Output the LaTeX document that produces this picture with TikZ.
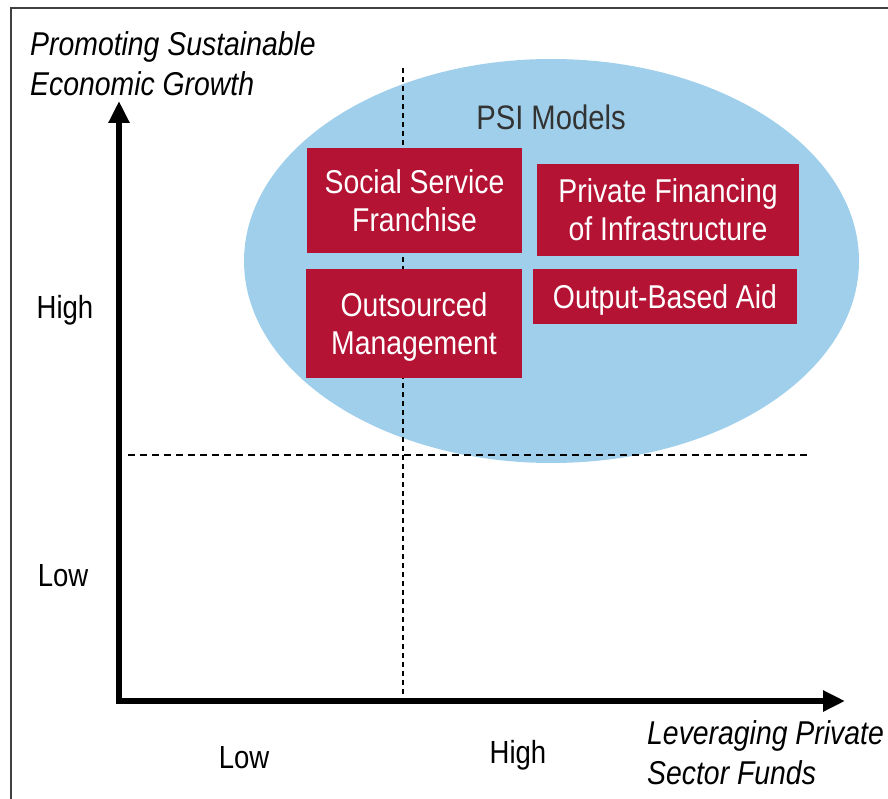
\documentclass[tikz,border=0pt]{standalone}
\usepackage{fontspec}
\setmainfont[FakeStretch=0.86]{Liberation Sans}
\usetikzlibrary{arrows.meta,shapes.geometric}
\definecolor{ellblue}{HTML}{A0CFEB}
\definecolor{boxred}{HTML}{B41333}
\definecolor{txtgray}{HTML}{333333}
\tikzset{
  modelbox/.style={fill=boxred, text=white, align=center, inner sep=0pt, text depth=0pt,
    font=\fontsize{33}{38}\selectfont},
  axislbl/.style={font=\fontsize{33}{40}\selectfont\itshape, align=left, inner sep=0pt, anchor=north west},
  ticklbl/.style={font=\fontsize{32}{36}\selectfont, inner sep=0pt, anchor=base},
  axisline/.style={line width=6pt, line join=miter, {Triangle[length=22pt,width=20pt]}-{Triangle[length=22pt,width=20pt]}},
  quadline/.style={line width=1.3pt, black},
  framelinestyle/.style={line width=1.6pt, black!75}
}
\begin{document}
\begin{tikzpicture}[x=1pt,y=-1pt]
\useasboundingbox (0,0) rectangle (888,799);
% frame (top and left edges visible)
\coordinate (fl) at (11,799);
\coordinate (fc) at (11,8);
\coordinate (fr) at (888,8);
\draw[framelinestyle] (fl) -- (fc) -- (fr);
% ellipse
\node[draw=none, fill=ellblue, ellipse, minimum width=615pt, minimum height=404pt, inner sep=0pt] (ell) at (551.5,261) {};
% dashed quadrant lines
\coordinate (vtop) at (403,68);
\coordinate (vbot) at (403,695);
\coordinate (hl) at (128,455);
\coordinate (hr) at (808,455);
\draw[quadline, dash pattern=on 5pt off 4pt] (vtop) -- (vbot);
\draw[quadline, dash pattern=on 7pt off 5pt] (hl) -- (hr);
% title in ellipse
\node[font=\fontsize{34}{38}\selectfont, text=txtgray, inner sep=0pt, anchor=base] (psi) at (551,130) {PSI Models};
% boxes
\node[modelbox, minimum width=215pt, minimum height=105pt] (ssf) at (414.5,200.5) {Social Service\\Franchise};
\node[modelbox, minimum width=262pt, minimum height=92pt] (pfi) at (668,210) {Private Financing\\of Infrastructure};
\node[modelbox, minimum width=216pt, minimum height=109pt] (om) at (414,323.5) {Outsourced\\Management};
\node[modelbox, minimum width=264pt, minimum height=55pt] (oba) at (665,296.5) {Output-Based Aid};
% axes
\coordinate (O) at (119,701);
\coordinate (ytip) at (119,101);
\coordinate (xtip) at (845,701);
\draw[axisline] (ytip) -- (O) -- (xtip);
% axis titles
\node[axislbl] (ytitle) at (30,31) {Promoting Sustainable\\Economic Growth};
\node[axislbl] (xtitle) at (647,720) {Leveraging Private\\Sector Funds};
% tick labels
\node[ticklbl] (yhigh) at (65,319) {High};
\node[ticklbl] (ylow) at (63,586) {Low};
\node[ticklbl] (xlow) at (244,768) {Low};
\node[ticklbl] (xhigh) at (518,763) {High};
\end{tikzpicture}
\end{document}
